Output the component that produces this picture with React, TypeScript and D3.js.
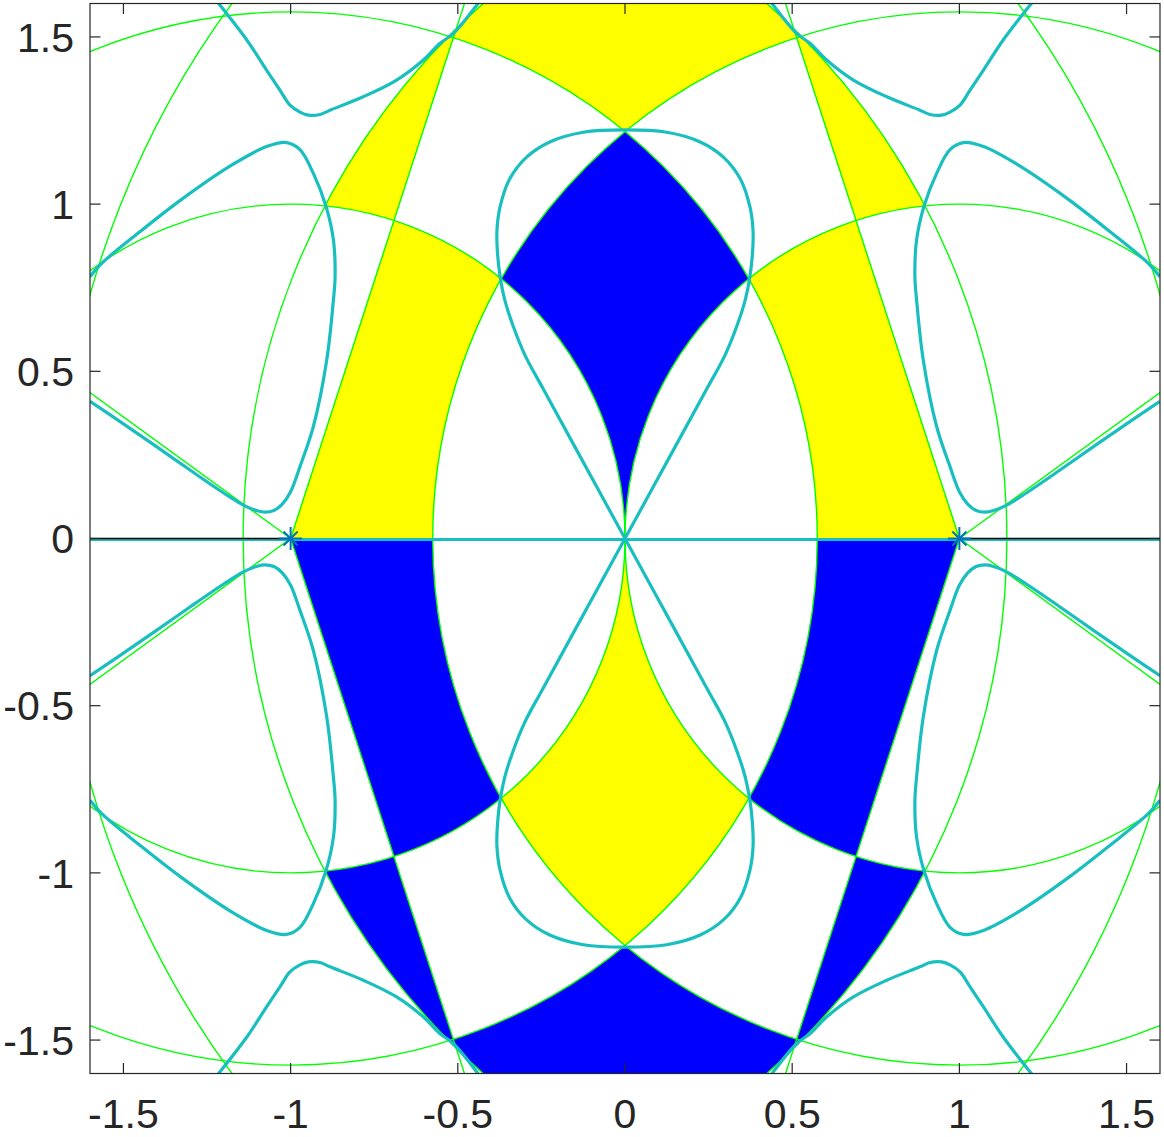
import React from 'react';
import * as d3 from 'd3';

const W = 1164;
const H = 1137;
const xDomain = [-1.6, 1.6];
const yDomain = [-1.6, 1.6];
const xTicks = [-1.5, -1, -0.5, 0, 0.5, 1, 1.5];
const yTicks = [-1.5, -1, -0.5, 0, 0.5, 1, 1.5];
const xTickLabels = ['-1.5', '-1', '-0.5', '0', '0.5', '1', '1.5'];
const yTickLabels = ['-1.5', '-1', '-0.5', '0', '0.5', '1', '1.5'];

// marked points (stars) on the real axis
const starX = [-1, 1];
// green circles: centred on each marked point
const circleCenters = [-1, 1];
const circleRadii = [1, 1.575, 2.142, 2.7];
// green rays (degrees) from the left and right marked points
const raysLeft = [72, 144, -72, -144];
const raysRight = [108, 36, -108, -36];

// cyan curves, upper-left quadrant (mirrored to the other quadrants)
const lobeX = [0, -0.145, -0.246, -0.3, -0.338, -0.36, -0.373, -0.381, -0.383, -0.374, -0.345, -0.295, -0.225, -0.125, 0];
const lobeY = [0, 0.265, 0.45, 0.55, 0.645, 0.715, 0.78, 0.85, 0.92, 0.99, 1.075, 1.14, 1.186, 1.215, 1.222];
const hookX = [-1.6, -1.5, -1.4, -1.3, -1.2, -1.14, -1.1, -1.077, -1.05, -1.025, -1.0, -0.972, -0.932, -0.892, -0.872, -0.867, -0.872, -0.894, -0.932, -0.972, -1.012, -1.072, -1.179, -1.329, -1.45, -1.565, -1.6];
const hookY = [0.41, 0.343, 0.274, 0.204, 0.136, 0.099, 0.083, 0.079, 0.084, 0.103, 0.14, 0.215, 0.335, 0.534, 0.714, 0.783, 0.893, 0.993, 1.092, 1.163, 1.184, 1.172, 1.115, 1.012, 0.918, 0.823, 0.783];
const crossX = [-1.216, -1.131, -1.072, -1.032, -1.002, -0.972, -0.947, -0.912, -0.882, -0.783, -0.683, -0.603, -0.553, -0.513, -0.439];
const crossY = [1.601, 1.491, 1.401, 1.341, 1.296, 1.275, 1.266, 1.268, 1.281, 1.321, 1.371, 1.431, 1.481, 1.511, 1.601];

// filled regions of the upper half: annulus range about -1 (a), about +1 (b), optional sector
const regionA = [[1.575, 2.142], [1, 1.575], [0, 1], [1, 1.575], [1.575, 9], [1.575, 2.142]];
const regionB = [[1.575, 2.142], [1, 1.575], [1.575, 9], [1.575, 2.142], [0, 1], [1, 1.575]];
const regionUpperColor = ['yellow', 'blue', 'yellow', 'yellow', 'yellow', 'yellow'];
const regionSectorCenter = [null, null, -1, -1, 1, 1];
const regionSectorFrom = [0, 0, 0, 72, 108, 0];
const regionSectorTo = [0, 0, 72, 180, 180, 108];

const COLORS: Record<string, string> = { yellow: '#FFFF00', blue: '#0000FF' };
const GREEN = '#00FF00';
const CYAN = '#19BFBF';
const AXIS = '#262626';

export default function App() {
  const left = 90, right = 1160, top = 3.5, bottom = 1073.5;
  const x = d3.scaleLinear().domain(xDomain).range([left, right]);
  const y = d3.scaleLinear().domain(yDomain).range([bottom, top]);
  const k = x(1) - x(0);

  const circlePath = (c: number, r: number) => {
    const cx = x(c), cy = y(0), rp = r * k;
    return `M${cx + rp},${cy}A${rp},${rp} 0 1 0 ${cx - rp},${cy}A${rp},${rp} 0 1 0 ${cx + rp},${cy}Z`;
  };
  const annulus = (c: number, lo: number, hi: number) =>
    circlePath(c, hi) + (lo > 0 ? circlePath(c, lo) : '');

  const sectorPath = (c: number, from: number, to: number, sign: number) => {
    const pts: [number, number][] = [[c, 0]];
    for (let i = 0; i <= 12; i++) {
      const a = ((from + ((to - from) * i) / 12) * Math.PI) / 180;
      pts.push([c + 6 * Math.cos(a), sign * 6 * Math.sin(a)]);
    }
    return d3.line<[number, number]>().x((d) => x(d[0])).y((d) => y(d[1]))(pts) + 'Z';
  };

  const regions: any[] = [];
  [1, -1].forEach((half) => {
    regionA.forEach((a, i) => {
      const col = half === 1 ? regionUpperColor[i] : regionUpperColor[i] === 'yellow' ? 'blue' : 'yellow';
      regions.push({
        id: `rg${half === 1 ? 'u' : 'l'}${i}`,
        a,
        b: regionB[i],
        half,
        color: COLORS[col],
        sc: regionSectorCenter[i],
        from: regionSectorFrom[i],
        to: regionSectorTo[i],
      });
    });
  });

  const curve = d3
    .line<[number, number]>()
    .x((d) => x(d[0]))
    .y((d) => y(d[1]))
    .curve(d3.curveCatmullRom.alpha(0.5));

  const toPts = (xs: number[], ys: number[]) => xs.map((v, i) => [v, ys[i]] as [number, number]);
  const lobeHalf = toPts(lobeX, lobeY);
  const lobeFull = lobeHalf.concat(lobeHalf.slice(0, -1).reverse().map((p) => [-p[0], p[1]] as [number, number]));
  const hook = toPts(hookX, hookY);
  const cross = toPts(crossX, crossY);

  const cyanPaths: string[] = [];
  [1, -1].forEach((sy) => {
    cyanPaths.push(curve(lobeFull.map((p) => [p[0], sy * p[1]] as [number, number])) as string);
    [1, -1].forEach((sx) => {
      cyanPaths.push(curve(hook.map((p) => [sx * p[0], sy * p[1]] as [number, number])) as string);
      cyanPaths.push(curve(cross.map((p) => [sx * p[0], sy * p[1]] as [number, number])) as string);
    });
  });

  const rays: { c: number; a: number }[] = [
    ...raysLeft.map((a) => ({ c: -1, a })),
    ...raysRight.map((a) => ({ c: 1, a })),
  ];

  const font = '"Liberation Sans", Arial, Helvetica, sans-serif';

  return (
    <svg width={W} height={H} style={{ position: 'absolute', left: 0, top: 0, background: '#fff' }}>
      <defs>
        <clipPath id="plotArea">
          <rect x={left} y={top} width={right - left} height={bottom - top} />
        </clipPath>
        {regions.map((r) => (
          <React.Fragment key={r.id}>
            <clipPath id={`${r.id}a`}>
              <path d={annulus(-1, r.a[0], r.a[1])} clipRule="evenodd" />
            </clipPath>
            <clipPath id={`${r.id}b`}>
              <path d={annulus(1, r.b[0], r.b[1])} clipRule="evenodd" />
            </clipPath>
            <clipPath id={`${r.id}h`}>
              <rect x={0} width={W} y={r.half === 1 ? 0 : y(0)} height={r.half === 1 ? y(0) : H - y(0)} />
            </clipPath>
            {r.sc !== null && (
              <clipPath id={`${r.id}s`}>
                <path d={sectorPath(r.sc, r.from, r.to, r.half)} />
              </clipPath>
            )}
          </React.Fragment>
        ))}
      </defs>

      <g clipPath="url(#plotArea)">
        {regions.map((r) => {
          const inner = <rect x={0} y={0} width={W} height={H} fill={r.color} />;
          const sect = r.sc !== null ? <g clipPath={`url(#${r.id}s)`}>{inner}</g> : inner;
          return (
            <g key={r.id} clipPath={`url(#${r.id}a)`}>
              <g clipPath={`url(#${r.id}b)`}>
                <g clipPath={`url(#${r.id}h)`}>{sect}</g>
              </g>
            </g>
          );
        })}

        {circleCenters.map((c) =>
          circleRadii.map((r) => (
            <path key={`c${c}_${r}`} d={circlePath(c, r)} fill="none" stroke={GREEN} strokeWidth={1.4} />
          ))
        )}
        {rays.map((rr, i) => {
          const a = (rr.a * Math.PI) / 180;
          return (
            <line
              key={`ray${i}`}
              x1={x(rr.c)}
              y1={y(0)}
              x2={x(rr.c + 6 * Math.cos(a))}
              y2={y(6 * Math.sin(a))}
              stroke={GREEN}
              strokeWidth={1.4}
            />
          );
        })}

        <line x1={x(-1.6)} x2={x(1.6)} y1={y(0) + 1} y2={y(0) + 1} stroke={CYAN} strokeWidth={3} />
        {cyanPaths.map((d, i) => (
          <path key={`cy${i}`} d={d} fill="none" stroke={CYAN} strokeWidth={3.2} strokeLinejoin="round" />
        ))}
        <line x1={x(-1.6)} x2={x(-1)} y1={y(0)} y2={y(0)} stroke="#000" strokeWidth={1.5} />
        <line x1={x(1)} x2={x(1.6)} y1={y(0)} y2={y(0)} stroke="#000" strokeWidth={1.5} />

        {starX.map((s) => (
          <g key={`st${s}`} stroke="#0072BD" strokeWidth={2}>
            {[0, 45, 90, 135].map((ang) => {
              const a = (ang * Math.PI) / 180;
              const L = ang % 90 === 0 ? 11.5 : 10;
              return (
                <line
                  key={ang}
                  x1={x(s) - L * Math.cos(a)}
                  y1={y(0) - L * Math.sin(a)}
                  x2={x(s) + L * Math.cos(a)}
                  y2={y(0) + L * Math.sin(a)}
                />
              );
            })}
          </g>
        ))}
      </g>

      <g stroke={AXIS} strokeWidth={1.2} fill="none">
        <rect x={left} y={top} width={right - left} height={bottom - top} />
        {xTicks.map((t) => (
          <g key={`xt${t}`}>
            <line x1={x(t)} x2={x(t)} y1={bottom} y2={bottom - 10.5} />
            <line x1={x(t)} x2={x(t)} y1={top} y2={top + 10.5} />
          </g>
        ))}
        {yTicks.map((t) => (
          <g key={`yt${t}`}>
            <line x1={left} x2={left + 10.5} y1={y(t)} y2={y(t)} />
            <line x1={right} x2={right - 10.5} y1={y(t)} y2={y(t)} />
          </g>
        ))}
      </g>

      <g fill={AXIS} fontFamily={font} fontSize={41}>
        {xTicks.map((t, i) => (
          <text key={`xl${t}`} x={x(t)} y={1128} textAnchor="middle">
            {xTickLabels[i]}
          </text>
        ))}
        {yTicks.map((t, i) => (
          <text key={`yl${t}`} x={74} y={y(t) + 14.7} textAnchor="end">
            {yTickLabels[i]}
          </text>
        ))}
      </g>
    </svg>
  );
}
